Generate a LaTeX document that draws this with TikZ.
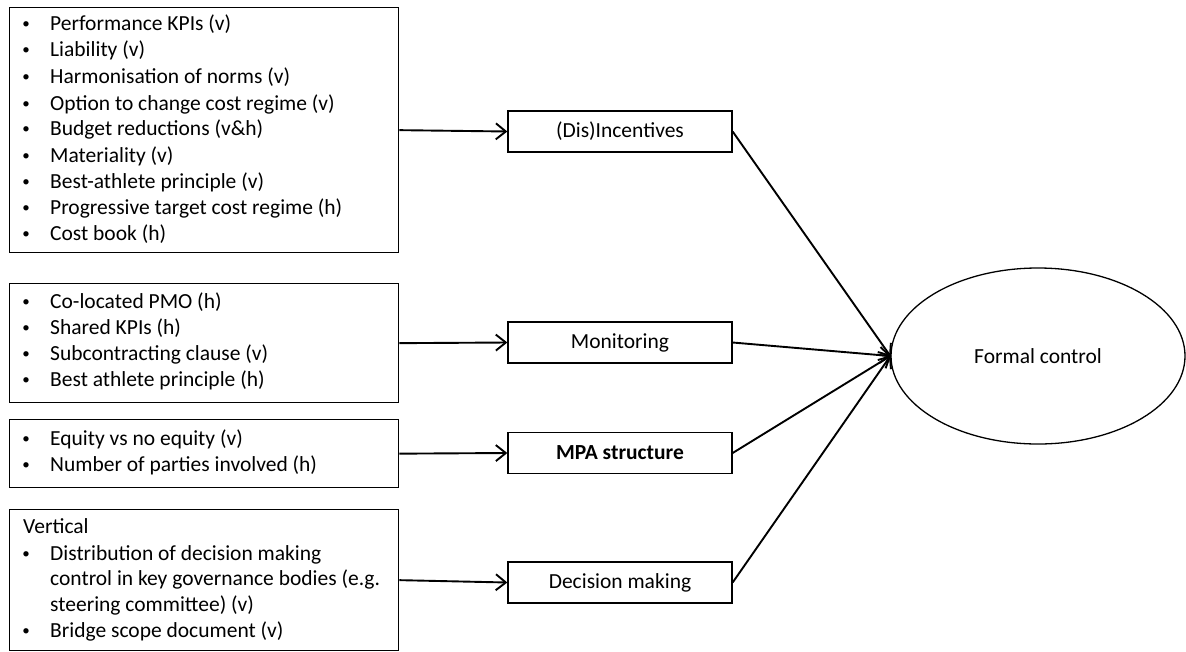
\documentclass[tikz,border=0pt]{standalone}
\usepackage{fontspec}
\setmainfont{Carlito}
\usetikzlibrary{arrows.meta,shapes.geometric}

\tikzset{
  listbox/.style={draw, line width=1.3pt, rectangle, anchor=north west, inner sep=0pt},
  factor/.style={draw, line width=1.3pt, rectangle, minimum width=224pt, minimum height=41pt, inner sep=0pt},
  outcome/.style={draw, line width=1.3pt, ellipse, minimum width=294pt, minimum height=176pt, inner sep=0pt},
  itemtext/.style={anchor=mid west, inner sep=0pt, yshift=-3.5pt},
  bulletmark/.style={anchor=center, inner sep=0pt, font=\fontsize{15}{15}\selectfont},
  arr/.style={line width=1.9pt, -{Straight Barb[length=10pt,width=16pt,line width=1.9pt]}},
  link/.style={line width=1.9pt, -{Straight Barb[length=10pt,width=16pt,line width=1.9pt]}, shorten >=-1pt}
}

\newcommand{\bulletline}[3]{%
  \node[bulletmark] (#1b) at (26,#2) {•};
  \node[itemtext] (#1) at (50,#2) {#3};}

\begin{document}
\begin{tikzpicture}[x=1pt,y=-1pt,font=\fontsize{21.5}{26}\selectfont]
\useasboundingbox (0,0) rectangle (1186,651);

% left-hand lists of mechanisms
\node[listbox, minimum width=389pt, minimum height=245pt] (b1) at (9,7) {};
\bulletline{a1}{25}{Performance KPIs (v)}
\bulletline{a2}{51}{Liability (v)}
\bulletline{a3}{78}{Harmonisation of norms (v)}
\bulletline{a4}{105}{Option to change cost regime (v)}
\bulletline{a5}{130}{Budget reductions (v\&h)}
\bulletline{a6}{157}{Materiality (v)}
\bulletline{a7}{183}{Best-athlete principle (v)}
\bulletline{a8}{209}{Progressive target cost regime (h)}
\bulletline{a9}{235}{Cost book (h)}

\node[listbox, minimum width=389pt, minimum height=119pt] (b2) at (9,283) {};
\bulletline{m1}{303}{Co-located PMO (h)}
\bulletline{m2}{329}{Shared KPIs (h)}
\bulletline{m3}{355}{Subcontracting clause (v)}
\bulletline{m4}{381}{Best athlete principle (h)}

\node[listbox, minimum width=389pt, minimum height=68pt] (b3) at (9,419) {};
\bulletline{s1}{440}{Equity vs no equity (v)}
\bulletline{s2}{466}{Number of parties involved (h)}

\node[listbox, minimum width=389pt, minimum height=141pt] (b4) at (9,509) {};
\node[itemtext] (vert) at (23,528) {Vertical};
\bulletline{d1}{555}{Distribution of decision making}
\node[itemtext] (d1b2) at (50,580) {control in key governance bodies (e.g.};
\node[itemtext] (d1b3) at (50,606) {steering committee) (v)};
\bulletline{d2}{632}{Bridge scope document (v)}

% control dimensions
\node[factor] (dis) at (620,131.5) {(Dis)Incentives};
\node[factor] (mon) at (620,342.5) {Monitoring};
\node[factor] (mpa) at (620,453) {\textbf{MPA structure}};
\node[factor] (dec) at (620,582.5) {Decision making};

% outcome
\node[outcome] (fc) at (1038,356) {Formal control};

% connectors
\draw[arr] (b1.east) -- (dis.west);
\draw[arr] (b2.east) -- (mon.west);
\draw[arr] (b3.east) -- (mpa.west);
\draw[arr] (b4.east) -- (dec.west);

\draw[link] (dis.east) -- (fc.west);
\draw[link] (mon.east) -- (fc.west);
\draw[link] (mpa.east) -- (fc.west);
\draw[link] (dec.east) -- (fc.west);
\end{tikzpicture}
\end{document}
